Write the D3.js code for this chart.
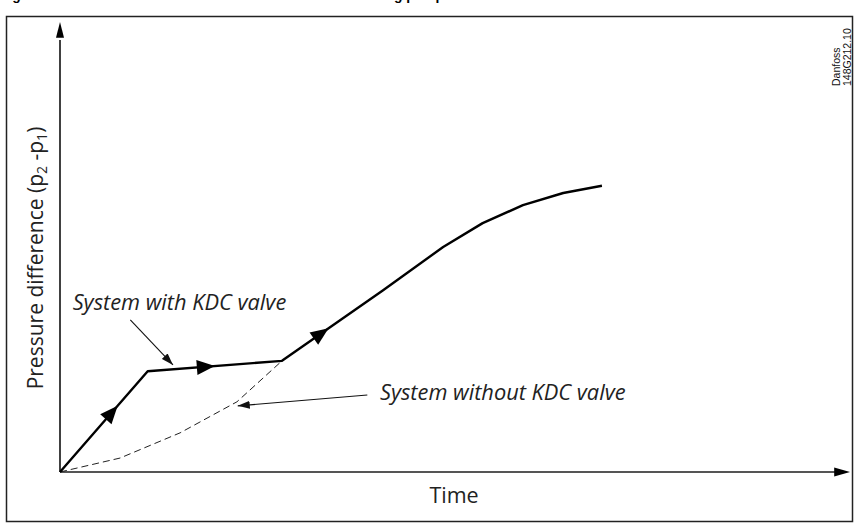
<!DOCTYPE html>
<html>
<head>
<meta charset="utf-8">
<script src="https://cdn.jsdelivr.net/npm/d3@7"></script>
<style>
  body { margin: 0; background: #fff; }
  text { font-family: "Open Sans", "Noto Sans", sans-serif; fill: #222; }
</style>
</head>
<body>
<div id="chart"></div>
<script>
// curve with KDC valve (time, pressure difference) - arbitrary units
var withTime  = [0, 11.1, 28.1, 40.9, 48.5, 53.5, 58.6, 63.7, 68.6];
var withDp    = [0, 22.4, 24.7, 40.4, 50.0, 55.3, 59.3, 62.0, 63.6];
// curve without KDC valve
var withoutTime = [0, 7.6, 15.2, 22.4, 28.1];
var withoutDp   = [0, 3.1, 8.7, 15.6, 24.7];
// where the direction arrows sit on the solid curve (time)
var arrowTimes = [7.3, 19.6, 34.0];

var labels = ["System with KDC valve", "System without KDC valve"];
var labelTime = [1.6, 40.5];
var labelDp = [36, 16];
var pointerFrom = [[8.9, 33.8], [38.9, 17.1]];
var pointerTo = [[14.3, 23.8], [22.5, 14.7]];

var svgWidth = 855;
var svgHeight = 523;

var svg = d3.select("#chart")
  .append("svg")
  .style("display", "block")
  .attr("width", svgWidth)
  .attr("height", svgHeight);

// figure title, cut off at the top edge like the scan (only descenders show)
var titleText = "Fig. 3  Pressure difference with and without KDC valve during pump start";
var title = svg.append("text")
  .attr("x", 0)
  .attr("y", -0.5)
  .style("font-family", "Liberation Sans, Arial, sans-serif")
  .style("font-weight", "bold")
  .style("font-size", "14px")
  .style("fill", "#000")
  .text(titleText);
// fit the size so the "g" of "during" sits where the scan shows it
var gIdx = titleText.indexOf("during") + 5;
var gPos = title.node().getStartPositionOfChar(gIdx).x;
if (gPos > 0) title.style("font-size", (14 * 403 / gPos) + "px");

// frame
svg.append("rect")
  .attr("x", 6.5)
  .attr("y", 16.5)
  .attr("width", 846)
  .attr("height", 505)
  .attr("fill", "none")
  .attr("stroke", "#222")
  .attr("stroke-width", 1.5);

var xScale = d3.scaleLinear().domain([0, 100]).range([60, 850]);
var yScale = d3.scaleLinear().domain([0, 100]).range([472, 22]);

var defs = svg.append("defs");
defs.append("marker")
  .attr("id", "thinHead")
  .attr("viewBox", "0 0 12 8")
  .attr("refX", 12)
  .attr("refY", 4)
  .attr("markerWidth", 12)
  .attr("markerHeight", 8)
  .attr("markerUnits", "userSpaceOnUse")
  .attr("orient", "auto")
  .append("path")
  .attr("d", "M0,0 L12,4 L0,8 Z")
  .attr("fill", "#111");

// axes
var x0 = xScale(0), y0 = yScale(0);
svg.append("line")
  .attr("x1", x0).attr("y1", y0)
  .attr("x2", x0).attr("y2", yScale(96))
  .attr("stroke", "#111").attr("stroke-width", 1.6);
svg.append("path")
  .attr("d", `M${x0 - 4},${yScale(96.5)} L${x0},${yScale(100)} L${x0 + 4},${yScale(96.5)} Z`)
  .attr("fill", "#000");

svg.append("line")
  .attr("x1", x0).attr("y1", y0)
  .attr("x2", xScale(98.2)).attr("y2", y0)
  .attr("stroke", "#555").attr("stroke-width", 2);
svg.append("path")
  .attr("d", `M${xScale(98)},${y0 - 4.5} L${xScale(100)},${y0} L${xScale(98)},${y0 + 4.5} Z`)
  .attr("fill", "#000");

// axis labels
svg.append("text")
  .attr("transform", `translate(43, 258) rotate(-90)`)
  .attr("text-anchor", "middle")
  .style("font-size", "21px")
  .html('Pressure difference (p<tspan baseline-shift="-25%" font-size="14px">2</tspan> -p<tspan baseline-shift="-25%" font-size="14px">1</tspan>)');

svg.append("text")
  .attr("x", 454)
  .attr("y", 503)
  .attr("text-anchor", "middle")
  .style("font-size", "21.5px")
  .text("Time");

// Danfoss reference
svg.append("text")
  .attr("transform", "translate(840, 86) rotate(-90)")
  .style("font-family", "Liberation Sans, Arial, sans-serif")
  .style("font-size", "10.5px")
  .style("fill", "#111")
  .text("Danfoss");
svg.append("text")
  .attr("transform", "translate(851, 86) rotate(-90)")
  .style("font-family", "Liberation Sans, Arial, sans-serif")
  .style("font-size", "10.5px")
  .style("fill", "#111")
  .text("148G212.10");

// curves
var withData = withTime.map((t, i) => [t, withDp[i]]);
var withoutData = withoutTime.map((t, i) => [t, withoutDp[i]]);

var line = d3.line()
  .x(d => xScale(d[0]))
  .y(d => yScale(d[1]));

svg.append("path")
  .datum(withoutData)
  .attr("d", line)
  .attr("fill", "none")
  .attr("stroke", "#222")
  .attr("stroke-width", 1)
  .attr("stroke-dasharray", "7,4");

svg.append("path")
  .datum(withData)
  .attr("d", line)
  .attr("fill", "none")
  .attr("stroke", "#000")
  .attr("stroke-width", 2.4)
  .attr("stroke-linejoin", "round");

// direction arrows along the KDC curve
arrowTimes.forEach(function(t) {
  var i = d3.bisector(d => d[0]).right(withData, t) - 1;
  var a = withData[i], b = withData[i + 1];
  var f = (t - a[0]) / (b[0] - a[0]);
  var px = xScale(a[0] + f * (b[0] - a[0]));
  var py = yScale(a[1] + f * (b[1] - a[1]));
  var ang = Math.atan2(yScale(b[1]) - yScale(a[1]), xScale(b[0]) - xScale(a[0])) * 180 / Math.PI;
  svg.append("path")
    .attr("transform", `translate(${px},${py}) rotate(${ang})`)
    .attr("d", "M0,0 L-18,-7.5 L-18,7.5 Z")
    .attr("fill", "#000");
});

// annotations
labels.forEach(function(lab, i) {
  svg.append("text")
    .attr("x", xScale(labelTime[i]))
    .attr("y", yScale(labelDp[i]))
    .style("font-size", "21.8px")
    .style("font-style", "italic")
    .text(lab);
  svg.append("line")
    .attr("x1", xScale(pointerFrom[i][0]))
    .attr("y1", yScale(pointerFrom[i][1]))
    .attr("x2", xScale(pointerTo[i][0]))
    .attr("y2", yScale(pointerTo[i][1]))
    .attr("stroke", "#111")
    .attr("stroke-width", 1.1)
    .attr("marker-end", "url(#thinHead)");
});
</script>
</body>
</html>
